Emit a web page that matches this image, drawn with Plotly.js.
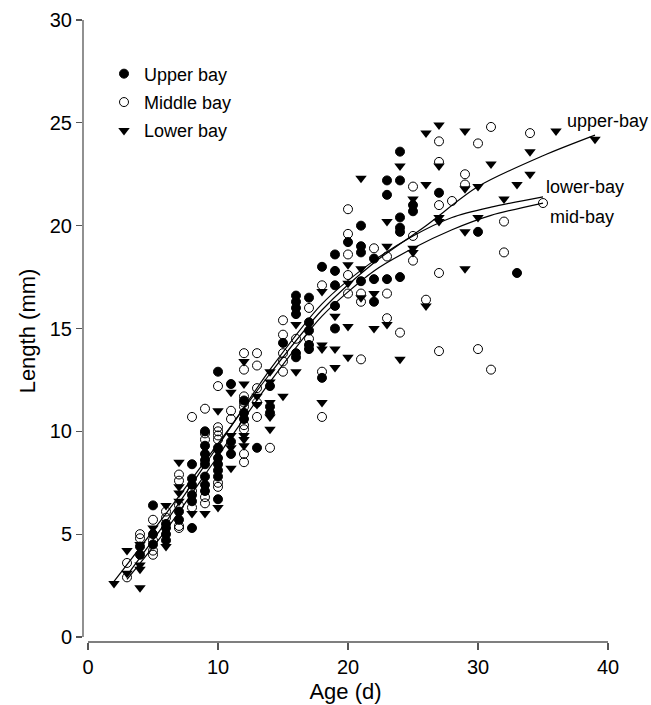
<!DOCTYPE html>
<html>
<head>
<meta charset="utf-8">
<script src="https://cdn.plot.ly/plotly-3.0.1.min.js"></script>
<style>html,body{margin:0;padding:0;background:#fff;}#chart{width:651px;height:705px;}</style>
</head>
<body>
<div id="chart"></div>
<script>
// Upper bay (filled circles)
const upperAge = [4,4, 5,5,5, 6,6,6,6, 7,7, 8,8,8,8,8,8, 9,9,9,9,9,9,9,9, 10,10,10,10,10,10,10, 11,11,11, 12,12,12, 13, 14,14,14, 15, 16,16,16,16,16,16, 17,17,17,17,17, 18,18, 19,19,19,19,19, 20, 21,21,21,21, 22,22,22, 23,23,23, 24,24,24,24,24,24, 25,25, 27, 30, 33];
const upperLen = [4.4,4.0, 6.4,5.0,4.5, 5.5,5.3,5.0,4.7, 6.1,5.7, 8.4,7.7,7.4,6.9,6.6,5.3, 10.0,9.3,8.9,8.6,8.4,7.8,7.4,7.1, 12.9,9.2,8.7,8.4,8.1,7.8,6.7, 12.3,9.5,8.9, 11.5,10.9,10.6, 9.2, 12.2,11.2,10.9, 14.3, 16.6,16.3,16.0,15.7,13.8,13.6, 16.5,15.3,14.9,14.2,14.0, 18.0,12.6, 18.6,17.8,17.1,16.1,15.0, 19.2, 20.0,19.0,18.7,17.3, 18.4,17.4,16.3, 22.2,21.5,17.4, 23.6,22.2,20.4,19.9,19.7,17.5, 21.0,20.7, 21.6, 19.7, 17.7];

// Middle bay (open circles)
const middleAge = [3,3, 4,4, 5,5,5,5, 6,6, 7,7,7,7,7, 8,8,8, 9,9,9,9,9, 10,10,10,10,10,10,10, 11,11, 12,12,12,12,12,12,12,12,12, 13,13,13,13,13, 14, 15,15,15,15,15, 16, 17,17, 18,18,18, 20,20,20,20,20, 21,21,21, 22, 23,23,23, 24, 25,25,25, 26, 27,27,27,27,27, 28, 29,29, 30,30, 31,31, 32,32, 34, 35];
const middleLen = [3.6,2.9, 5.0,4.8, 5.7,4.7,4.2,4.0, 6.1,5.8, 7.9,7.6,6.4,5.4,5.3, 10.7,7.1,6.3, 11.1,9.9,9.6,6.8,6.5, 12.2,10.2,10.0,9.8,9.6,7.5,7.3, 11.0,10.6, 13.8,13.0,11.7,11.4,11.2,10.3,10.1,8.9,8.5, 13.8,13.2,12.1,11.4,10.7, 9.2, 15.4,14.7,13.8,13.4,12.9, 14.5, 16.0,14.5, 17.1,12.9,10.7, 20.8,19.6,18.6,17.6,16.7, 16.7,16.3,13.5, 18.9, 18.5,16.7,15.5, 14.8, 21.9,19.5,18.3, 16.4, 24.1,23.1,21.0,17.7,13.9, 21.2, 22.5,22.0, 24.0,14.0, 24.8,13.0, 20.2,18.7, 24.5, 21.1];

// Lower bay (down triangles)
const lowerAge = [2, 3,3, 4,4,4,4, 5, 6,6, 7,7,7,7, 8, 9, 10,10,10, 11,11,11,11, 12,12,12,12,12, 13,13, 14,14,14,14,14, 15, 16,16, 18,18,18,18, 19,19,19, 20,20,20,20, 21,21,21, 22,22, 23,23,23, 24,24, 25,25,25, 26,26,26, 27,27,27,27, 29,29,29,29, 30,30, 31, 32, 33, 34,34, 36, 39];
const lowerLen = [2.6, 4.2,3.1, 4.5,3.5,3.3,2.4, 5.3, 6.4,4.4, 8.5,7.3,7.0,6.6, 6.0, 6.0, 11.0,9.0,6.3, 11.9,9.8,9.2,8.2, 13.4,12.3,9.8,9.6,9.3, 11.7,11.3, 12.9,12.4,11.4,10.7,10.1, 11.7, 15.2,12.9, 16.8,14.2,14.0,11.4, 15.6,14.0,13.1, 18.1,17.2,15.1,13.6, 22.3,17.9,16.5, 16.7,15.0, 20.2,19.0,15.2, 22.9,13.5, 21.3,18.9,18.7, 24.5,22.0,16.1, 24.9,22.9,20.4,20.2, 24.6,21.8,19.7,17.9, 21.9,20.4, 23.0, 21.3, 22.0, 23.6,22.5, 24.6, 24.2];

// Fitted growth curves
const upperCurveAge = [2, 6, 10, 14, 18, 22, 26, 30, 35, 39];
const upperCurveLen = [2.7, 6.0, 9.4, 12.8, 15.9, 18.2, 20.0, 21.9, 23.4, 24.4];
const lowerCurveAge = [3, 6, 10, 14, 18, 22, 25, 28, 31, 35];
const lowerCurveLen = [3.0, 5.6, 9.3, 13.0, 16.2, 18.3, 19.5, 20.4, 20.9, 21.4];
const midCurveAge = [3, 6, 10, 14, 18, 22, 25, 28, 31, 35];
const midCurveLen = [2.8, 5.2, 8.8, 12.4, 15.6, 17.8, 18.9, 19.8, 20.5, 21.1];

const legendNames = ['Upper bay', 'Middle bay', 'Lower bay'];
const curveLabels = ['upper-bay', 'lower-bay', 'mid-bay'];
const xTicks = [0, 10, 20, 30, 40];
const yTicks = [0, 5, 10, 15, 20, 25, 30];

const FONT = 'Liberation Sans, Arial, Helvetica, sans-serif';
const lineStyle = {color: '#000', width: 1.2, shape: 'spline', smoothing: 0.8};

const traces = [
  {x: upperCurveAge, y: upperCurveLen, mode: 'lines', line: lineStyle, showlegend: false, hoverinfo: 'skip'},
  {x: lowerCurveAge, y: lowerCurveLen, mode: 'lines', line: lineStyle, showlegend: false, hoverinfo: 'skip'},
  {x: midCurveAge, y: midCurveLen, mode: 'lines', line: lineStyle, showlegend: false, hoverinfo: 'skip'},
  {x: upperAge, y: upperLen, mode: 'markers', name: legendNames[0], legendgroup: 'u',
   marker: {symbol: 'circle', size: 9, color: '#000', line: {color: '#000', width: 1}}},
  {x: middleAge, y: middleLen, mode: 'markers', name: legendNames[1], legendgroup: 'm',
   marker: {symbol: 'circle-open', size: 9, color: '#000', line: {color: '#000', width: 1}}},
  {x: lowerAge, y: lowerLen, mode: 'markers', name: legendNames[2], legendgroup: 'l',
   marker: {symbol: 'triangle-down', size: 10, color: '#000', line: {color: '#000', width: 0}}}
];

const layout = {
  width: 651, height: 705,
  margin: {l: 83, r: 43, t: 20, b: 63},
  paper_bgcolor: '#fff', plot_bgcolor: '#fff',
  font: {family: FONT, color: '#000', size: 20},
  showlegend: true,
  legend: {x: 0.04, y: 0.943, xanchor: 'left', yanchor: 'top', bgcolor: 'rgba(0,0,0,0)',
           font: {family: FONT, size: 18, color: '#000'}, itemwidth: 30, tracegroupgap: 2},
  xaxis: {range: [-0.385, 40], tickvals: xTicks, ticktext: xTicks.map(String),
          showgrid: false, zeroline: false, showline: false,
          ticks: 'outside', ticklen: 7, tickwidth: 1.3, tickcolor: '#555',
          tickfont: {family: FONT, size: 20, color: '#000'},
          title: {text: 'Age (d)', font: {family: FONT, size: 22, color: '#000'}, standoff: 6}},
  yaxis: {range: [-0.243, 30], tickvals: yTicks, ticktext: yTicks.map(String),
          showgrid: false, zeroline: false, showline: false,
          ticks: 'outside', ticklen: 6, tickwidth: 1.3, tickcolor: '#555',
          tickfont: {family: FONT, size: 20, color: '#000'},
          title: {text: 'Length (mm)', font: {family: FONT, size: 22, color: '#000'}, standoff: 8}},
  shapes: [
    {type: 'line', xref: 'x', yref: 'paper', x0: 0, x1: 40, y0: 0, y1: 0, line: {color: '#555', width: 1.3}},
    {type: 'line', xref: 'paper', yref: 'y', x0: 0, x1: 0, y0: 0, y1: 30, line: {color: '#555', width: 1.3}}
  ],
  annotations: [
    {x: 36.7, y: 25.1, xref: 'x', yref: 'y', text: curveLabels[0], showarrow: false, xanchor: 'left', yanchor: 'middle', font: {family: FONT, size: 18, color: '#000'}},
    {x: 35.1, y: 21.9, xref: 'x', yref: 'y', text: curveLabels[1], showarrow: false, xanchor: 'left', yanchor: 'middle', font: {family: FONT, size: 18, color: '#000'}},
    {x: 35.4, y: 20.4, xref: 'x', yref: 'y', text: curveLabels[2], showarrow: false, xanchor: 'left', yanchor: 'middle', font: {family: FONT, size: 18, color: '#000'}}
  ]
};

Plotly.newPlot('chart', traces, layout, {staticPlot: true, displayModeBar: false});
</script>
</body>
</html>
